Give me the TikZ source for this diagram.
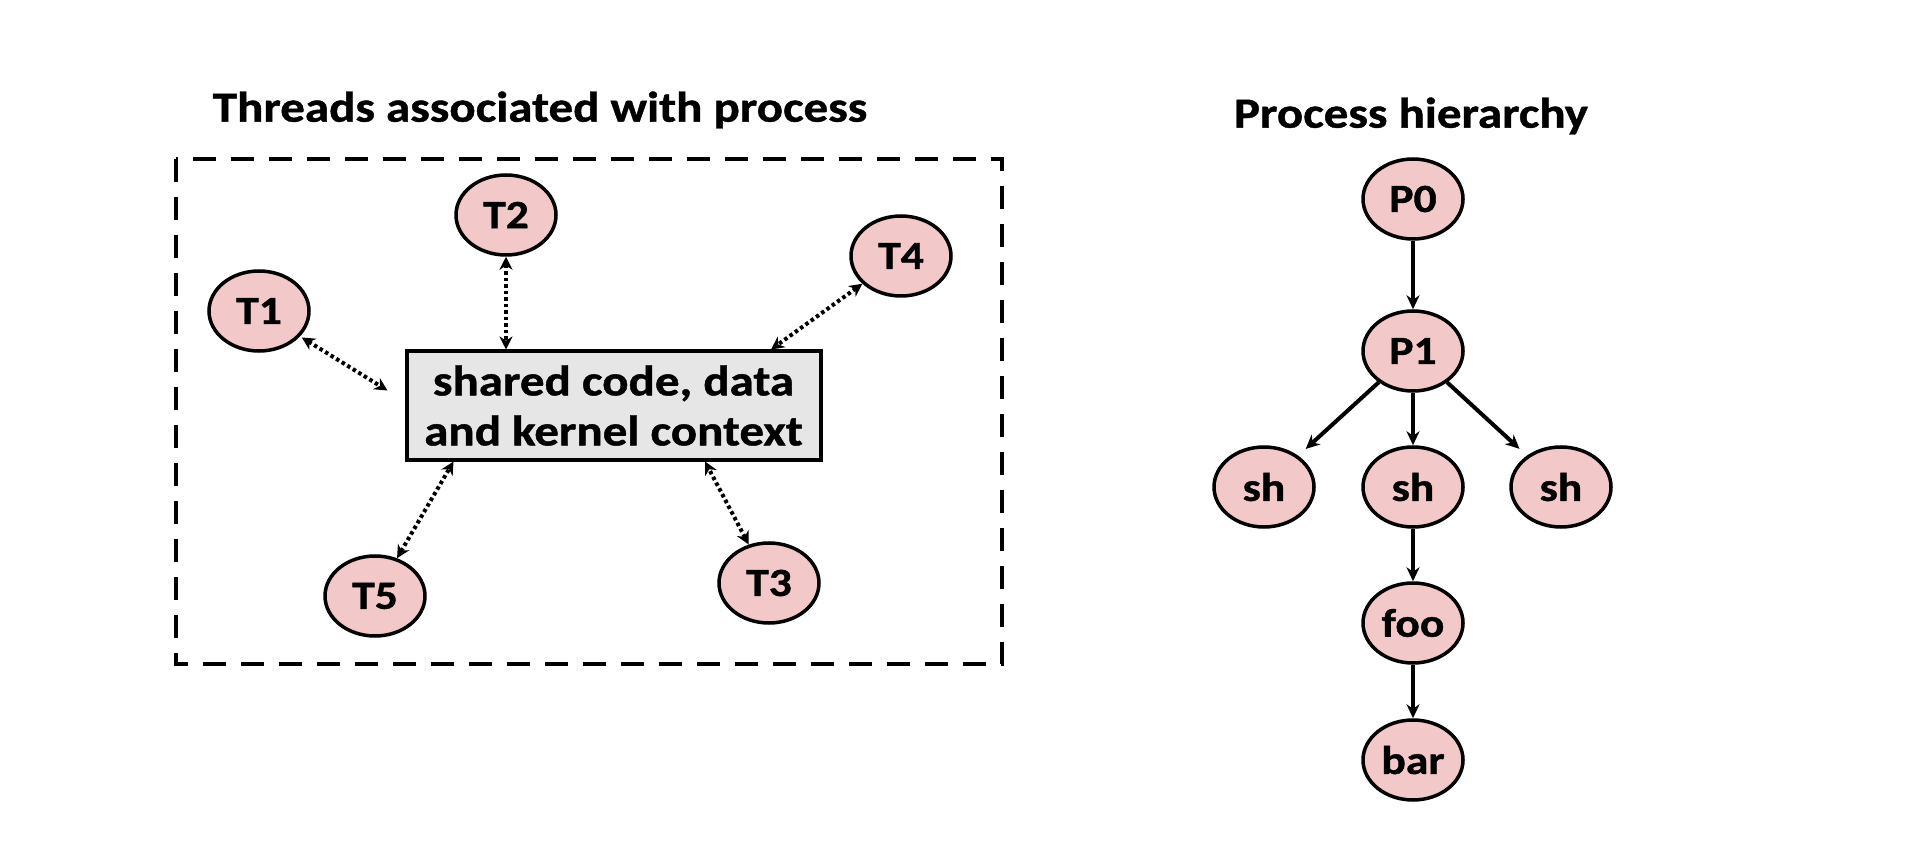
\documentclass[tikz,border=0pt]{standalone}
\usepackage{fontspec}
\setmainfont{Carlito}[FakeStretch=1.14, BoldFeatures={FakeBold=1}]
\usetikzlibrary{arrows.meta,shapes.geometric,calc}
\definecolor{nodepink}{RGB}{242,200,200}
\definecolor{boxgray}{RGB}{230,230,230}
\begin{document}
\begin{tikzpicture}[x=1pt,y=-1pt,
  proc/.style={ellipse, draw, line width=3.5pt, fill=nodepink, minimum width=100pt, minimum height=80pt, inner sep=0pt, font=\fontsize{40}{44}\selectfont\bfseries},
  sharedbox/.style={rectangle, draw, line width=4pt, fill=boxgray, minimum width=414pt, minimum height=108pt, align=center, inner sep=0pt, font=\fontsize{43}{50}\selectfont\bfseries},
  titletext/.style={font=\fontsize{43}{48}\selectfont\bfseries, inner sep=0pt},
  dotarrow/.style={line width=4pt, dash pattern=on 3.5pt off 3pt, {Stealth[length=13pt,width=13pt]}-{Stealth[length=13pt,width=13pt]}},
  treearrow/.style={line width=4pt, -{Stealth[length=14pt,width=13pt]}},
  groupbox/.style={draw, line width=4pt, dash pattern=on 23pt off 15pt}
]
\useasboundingbox (0,0) rectangle (1912,866);

% left part
\node[titletext] (title1) at (540,110) {Threads associated with process};
\draw[groupbox] (176,159) rectangle (1002,664);
\node[sharedbox] (box) at (613.5,405.5) {shared code, data\\and kernel context};
\node[proc] (T1) at (259,311) {T1};
\node[proc] (T2) at (506,215) {T2};
\node[proc] (T4) at (901,256) {T4};
\node[proc] (T5) at (375,596) {T5};
\node[proc] (T3) at (769,583) {T3};

\coordinate (c1) at ($(box.west)+(-17,-15)$);
\coordinate (c4) at ($(box.north)+(157.5,0)$);
\coordinate (c5) at ($(box.south west)+(49,0)$);
\coordinate (c3) at ($(box.south)+(91.5,0)$);

\draw[dotarrow, shorten <=2pt] (T1) -- (c1);
\draw[dotarrow] (T2.south) -- (T2.south |- box.north);
\draw[dotarrow] (T4) -- (c4);
\draw[dotarrow] (T5) -- (c5);
\draw[dotarrow] (T3) -- (c3);

% right part
\node[titletext] (title2) at (1411,116) {Process hierarchy};
\node[proc] (P0) at (1413,199) {P0};
\node[proc] (P1) at (1413,351) {P1};
\node[proc] (shL) at (1264,487) {sh};
\node[proc] (shM) at (1413,487) {sh};
\node[proc] (shR) at (1561,487) {sh};
\node[proc] (foo) at (1413,623) {foo};
\node[proc] (bar) at (1413,760) {bar};

\draw[treearrow] (P0) -- (P1);
\draw[treearrow, shorten >=10pt] (P1) -- (shL);
\draw[treearrow] (P1) -- (shM);
\draw[treearrow, shorten >=10pt] (P1) -- (shR);
\draw[treearrow] (shM) -- (foo);
\draw[treearrow] (foo) -- (bar);
\end{tikzpicture}
\end{document}
